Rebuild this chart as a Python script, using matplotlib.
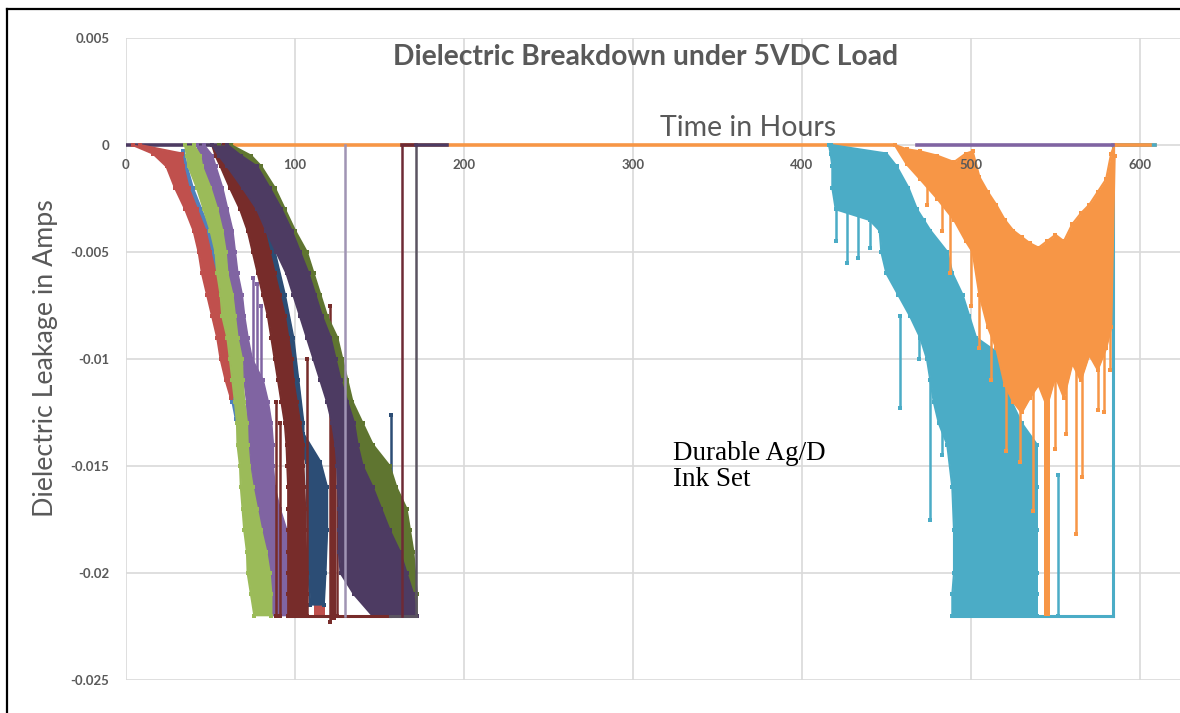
import matplotlib.pyplot as plt
from matplotlib.lines import Line2D

# ---- values (hours vs. amps) ----
# left group: for each leakage level, the left / right hour edge of the dense trace band
levels = [0, -0.0005, -0.001, -0.002, -0.003, -0.004, -0.005, -0.006, -0.007, -0.008,
          -0.009, -0.010, -0.011, -0.012, -0.013, -0.014, -0.015, -0.016, -0.017,
          -0.018, -0.019, -0.020, -0.021, -0.022]

blue_v = [-0.0003, -0.001, -0.002, -0.003, -0.004, -0.005, -0.006, -0.007, -0.008,
          -0.009, -0.010, -0.011, -0.012, -0.0128]
blue_l = [20, 26, 31, 37, 42, 45, 47, 50, 53, 56, 58, 61, 63, 65]
blue_r = [34, 36, 39.5, 44.5, 49.5, 52.5, 55.5, 58.5, 61.5, 62.5, 65.5, 66.5, 67.5, 68]

red_v = [0, -0.0004, -0.001, -0.002, -0.003, -0.004, -0.005, -0.006, -0.007, -0.008,
         -0.009, -0.010, -0.011, -0.0118]
red_l = [4, 16, 24, 29, 35, 40, 43, 45, 48, 51, 54, 56, 59, 62]
red_r = [8, 33, 34, 37, 42, 47, 50, 53, 56, 59, 60, 63, 64.5, 66]
red_bits_t = [[99.5, 101.5], [111, 118]]
red_bits_top = [-0.0195, -0.021]

green_l = [35, 36, 37, 42, 46, 50, 53, 54, 56, 57, 60, 61.5, 63, 64.5, 65.7, 66, 67.5,
           68, 69, 70, 71.6, 72, 74, 76]
green_r = [40, 44, 45, 50, 54, 57, 59, 60, 63, 64.5, 66, 68.6, 69, 70, 71.6, 72, 73,
           75, 77.5, 80, 83, 85, 86, 86]

purple_l = [42, 44, 46, 50, 53, 56, 59, 60, 63, 64.5, 66, 68.6, 70, 71.6, 72, 72.5, 74,
            75, 76, 78, 80, 82, 84, 86]
purple_r = [46, 51, 53, 57, 60, 63, 64.5, 66, 68.6, 70, 72, 74.5, 81, 84, 86, 87, 87,
            88, 91, 95, 98, 100, 101, 101]

dblue_v = [-0.003, -0.005, -0.007, -0.009, -0.011, -0.013, -0.0135, -0.0148, -0.016,
           -0.018, -0.020, -0.0215]
dblue_l = [70, 77, 83, 88, 92, 96, 97, 107, 107, 107.5, 108, 109]
dblue_r = [80, 88, 94, 99, 102, 105, 105, 115, 119, 119, 118, 117]

dred_l = [51, 53, 56, 61.5, 67.5, 72, 75, 78, 81, 84, 86, 88, 90, 92, 94, 95, 95.5, 96,
          96, 96, 96, 96, 96, 96]
dred_r = [58, 62, 64, 71.6, 77.5, 82, 85, 88, 91, 94, 96, 98, 99, 101, 103, 105, 105,
          105.5, 106, 106, 106.5, 107, 107, 107]

dgreen_l = [55, 60, 63, 73, 79, 85, 91, 97, 103, 107, 111, 115, 119, 122, 127, 131, 135,
            140, 145, 150, 154, 158, 161, 163]
dgreen_r = [62, 74, 80, 88, 94, 100, 107, 111, 115, 119, 125, 128, 131, 134, 140, 146,
            156, 160, 166, 168, 170, 171, 172, 172]

dpur_l = [51, 55, 60, 69, 77.5, 83, 89, 95, 99, 103, 107, 111, 115, 119, 122, 124, 125,
          125.5, 126, 126, 126, 127, 135, 146]
dpur_r = [60, 68, 77.5, 85, 92, 98, 103, 108, 112, 116, 121, 124, 127, 131, 135, 137,
          140, 146, 151, 156, 162, 166, 170, 172]

# single drops (hour, top, bottom)
dred_spk_t = [89, 91, 107, 121, 125]
dred_spk_top = [-0.012, -0.013, -0.010, -0.0075, -0.0125]
dred_spk_bot = [-0.022, -0.022, -0.022, -0.0223, -0.022]
dblue_spk_t = [157]
dblue_spk_top = [-0.0126]
dblue_spk_bot = [-0.0158]
purple_spk_t = [75, 77.5, 80]
purple_spk_top = [-0.0062, -0.0065, -0.0075]
purple_spk_bot = [-0.011, -0.0135, -0.014]

# full-depth failures
fail_t = [129.6, 163.3, 171.6]
fail_colors = ['#A094B4', '#6E2A35', '#5B5461']
floor_dred_t = [96, 156]
floor_gray_t = [156, 171.6]

# right group: aqua trace
teal_v = [0, -0.0004, -0.001, -0.002, -0.003, -0.0035, -0.004, -0.005, -0.006, -0.007,
          -0.008, -0.009, -0.010, -0.011, -0.012, -0.013, -0.014, -0.016, -0.018,
          -0.020, -0.021, -0.022]
teal_l = [416, 417, 418, 418, 420, 440, 446, 447, 450, 457, 464, 470, 474, 476, 478, 481,
          486, 489, 490, 490, 489, 489]
teal_r = [417, 450, 456, 463, 468, 472, 476, 486, 489, 495, 499, 503, 521, 521, 524, 530,
          539, 539, 539, 539, 539, 539]
teal_spk_t = [420, 426.6, 433, 440, 450, 458, 469, 476, 483, 551.5]
teal_spk_top = [-0.002, -0.002, -0.003, -0.003, -0.004, -0.008, -0.006, -0.011, -0.012, -0.0154]
teal_spk_bot = [-0.0045, -0.0055, -0.0053, -0.0048, -0.006, -0.0123, -0.010, -0.0175,
                -0.0145, -0.022]
teal_floor_t = [489, 584]
teal_back_t = 584
teal_zero_t = [584, 609]

# right group: orange trace
orange_t = [455, 462, 470, 480, 490, 497, 501, 505, 510, 515, 520, 525, 530, 535, 540,
            545, 550, 555, 560, 565, 570, 575, 580, 583, 585]
orange_hi = [0, -0.0002, -0.0003, -0.0005, -0.0008, -0.0004, -0.0003, -0.0015, -0.0022,
             -0.0028, -0.0035, -0.004, -0.0043, -0.0046, -0.0048, -0.0045, -0.0042,
             -0.0045, -0.0037, -0.0032, -0.0028, -0.0022, -0.0016, -0.0004, 0]
orange_lo = [0, -0.0009, -0.0016, -0.0025, -0.0035, -0.0045, -0.005, -0.007, -0.0085,
             -0.0095, -0.0112, -0.012, -0.0125, -0.0118, -0.0112, -0.0122, -0.0108,
             -0.0118, -0.0102, -0.011, -0.0098, -0.0105, -0.0095, -0.0085, -0.0005]
orange_spk_t = [474, 483, 487.6, 500, 505, 512, 521, 529, 537, 550, 556, 562, 566, 575, 579, 582]
orange_spk_top = [-0.001, -0.002, -0.0025, -0.004, -0.006, -0.008, -0.010, -0.011, -0.011,
                  -0.011, -0.011, -0.010, -0.010, -0.010, -0.009, -0.008]
orange_spk_bot = [-0.0028, -0.004, -0.006, -0.0075, -0.0095, -0.011, -0.0143, -0.0148,
                  -0.0171, -0.0142, -0.0135, -0.0182, -0.0155, -0.0124, -0.0125, -0.0105]
orange_deep_t = [543, 547]
orange_deep_top = -0.009

# flat segments at zero
dpur_zero_t = [0, 63]
orange_zero_t = [[63, 455], [585, 609]]
dred_zero_t = [163.3, 171.6]
dpur_zero2_t = [171.6, 190]
purple_zero_t = [468, 584]

xticks = [0, 100, 200, 300, 400, 500, 600]
yticks = [0.005, 0, -0.005, -0.01, -0.015, -0.02, -0.025]
ytick_labels = ['0.005', '0', '-0.005', '-0.01', '-0.015', '-0.02', '-0.025']

BLUE, RED, GREEN, PURPLE = '#4F81BD', '#C0504D', '#9BBB59', '#8064A2'
AQUA, ORANGE = '#4BACC6', '#F79646'
DBLUE, DRED, DGREEN, DPURPLE = '#2C4D75', '#772C2A', '#5F7530', '#4D3B62'
GREY_TXT = '#595959'

plt.rcParams['font.family'] = ['Lato', 'DejaVu Sans']

fig = plt.figure(figsize=(11.8, 7.13), dpi=100)
ax = fig.add_axes([126 / 1180, 1 - 680 / 713, 1054 / 1180, 642 / 713])


def band(v, left, right, color, z):
    ax.fill_betweenx(v, left, right, color=color, lw=0, zorder=z)
    for edge in (left, right):
        ax.plot(edge, v, color=color, lw=1.6, marker='s', ms=3, mew=0, zorder=z)


def spikes(t, top, bot, color, z, lw=1.8):
    ax.vlines(t, bot, top, colors=color, lw=lw, zorder=z)
    ax.plot(t, bot, 's', color=color, ms=3.2, mew=0, zorder=z)
    ax.plot(t, top, 's', color=color, ms=3.2, mew=0, zorder=z)


# zero line under everything
ax.plot(dpur_zero_t, [0, 0], color=DPURPLE, lw=2.6, zorder=2)
for seg in orange_zero_t:
    ax.plot(seg, [0, 0], color=ORANGE, lw=2.6, zorder=2.5)

# left group
band(blue_v, blue_l, blue_r, BLUE, 3)
band(red_v, red_l, red_r, RED, 3.1)
for seg, top in zip(red_bits_t, red_bits_top):
    ax.fill_between(seg, top, -0.022, color=RED, lw=0, zorder=3.1)
band(levels, purple_l, purple_r, PURPLE, 3.2)
spikes(purple_spk_t, purple_spk_top, purple_spk_bot, PURPLE, 3.2)
band(levels, green_l, green_r, GREEN, 3.3)
band(dblue_v, dblue_l, dblue_r, DBLUE, 3.4)
spikes(dblue_spk_t, dblue_spk_top, dblue_spk_bot, DBLUE, 3.4)
band(levels, dred_l, dred_r, DRED, 3.5)
spikes(dred_spk_t, dred_spk_top, dred_spk_bot, DRED, 3.5)
ax.fill_between([120.5, 124.5], -0.012, -0.0222, color=DRED, lw=0, zorder=3.5)
band(levels, dgreen_l, dgreen_r, DGREEN, 3.6)
band(levels, dpur_l, dpur_r, DPURPLE, 3.7)

ax.plot(floor_dred_t, [-0.022, -0.022], color=DRED, lw=2.2, zorder=3.8)
ax.plot(floor_gray_t, [-0.022, -0.022], color=fail_colors[2], lw=2.2, zorder=3.8)
for t, c in zip(fail_t, fail_colors):
    ax.plot([t, t], [0, -0.022], color=c, lw=1.8, zorder=3.9)
ax.plot(dred_zero_t, [0, 0], color=fail_colors[1], lw=2.6, zorder=3.9)
ax.plot(dpur_zero2_t, [0, 0], color=DPURPLE, lw=2.6, zorder=3.9)

# right group
band(teal_v, teal_l, teal_r, AQUA, 4)
spikes(teal_spk_t, teal_spk_top, teal_spk_bot, AQUA, 4)
ax.plot(teal_floor_t, [-0.022, -0.022], color=AQUA, lw=2.2, zorder=4)
ax.plot([teal_back_t, teal_back_t], [-0.022, 0], color=AQUA, lw=2.2, zorder=4)
ax.plot(teal_zero_t, [0, 0], color=AQUA, lw=2.6, zorder=4)

ax.fill_between(orange_t, orange_hi, orange_lo, color=ORANGE, lw=0, zorder=4.5)
for edge in (orange_hi, orange_lo):
    ax.plot(orange_t, edge, color=ORANGE, lw=1.6, marker='s', ms=3, mew=0, zorder=4.5)
spikes(orange_spk_t, orange_spk_top, orange_spk_bot, ORANGE, 4.5)
ax.fill_between(orange_deep_t, orange_deep_top, -0.022, color=ORANGE, lw=0, zorder=4.5)
ax.plot([587, 606], [0, 0], color=ORANGE, lw=2.6, zorder=4.6)
ax.plot(purple_zero_t, [0, 0], color=PURPLE, lw=2.6, zorder=4.7)

# axes styling
ax.set_xlim(0, 623.7)
ax.set_ylim(-0.025, 0.005)
ax.set_xticks(xticks)
ax.set_xticklabels([])
ax.set_yticks(yticks)
ax.set_yticklabels(ytick_labels)
ax.grid(True, color='#D9D9D9', lw=1.2)
ax.set_axisbelow(True)
for side in ('top', 'right', 'left', 'bottom'):
    ax.spines[side].set_visible(False)
ax.tick_params(axis='both', length=0, labelsize=9.5, labelcolor=GREY_TXT)
ax.tick_params(axis='y', pad=12)
for lab in ax.get_yticklabels():
    lab.set_fontweight('bold')

# hour labels sit just under the zero line, drawn above the traces as in the original
for x in xticks:
    ax.annotate(str(x), (x, 0), xytext=(0, -14.5), textcoords='offset points',
                ha='center', va='center', fontsize=9.5, fontweight='bold',
                color=GREY_TXT, zorder=10, annotation_clip=False)

fig.text(646 / 1180, 1 - 57 / 713, 'Dielectric Breakdown under 5VDC Load', ha='center',
         va='center', fontsize=20.3, fontweight='bold', color=GREY_TXT)
fig.text(748 / 1180, 1 - 128 / 713, 'Time in Hours', ha='center', va='center',
         fontsize=20.5, color=GREY_TXT)
fig.text(46 / 1180, 1 - 358 / 713, 'Dielectric Leakage in Amps', ha='center', va='center',
         rotation=90, fontsize=19.3, color=GREY_TXT)
fig.text(673 / 1180, 1 - 441 / 713, 'Durable Ag/D\nInk Set', ha='left', va='top',
         fontsize=19.5, family='Liberation Serif', color='black', linespacing=1.05)

# outer frame (left and top edges visible)
fig.add_artist(Line2D([7 / 1180, 7 / 1180], [0, 1 - 9 / 713], color='black', lw=1.6))
fig.add_artist(Line2D([7 / 1180, 1], [1 - 9 / 713, 1 - 9 / 713], color='black', lw=1.6))

fig.savefig('out.png', dpi=100)
